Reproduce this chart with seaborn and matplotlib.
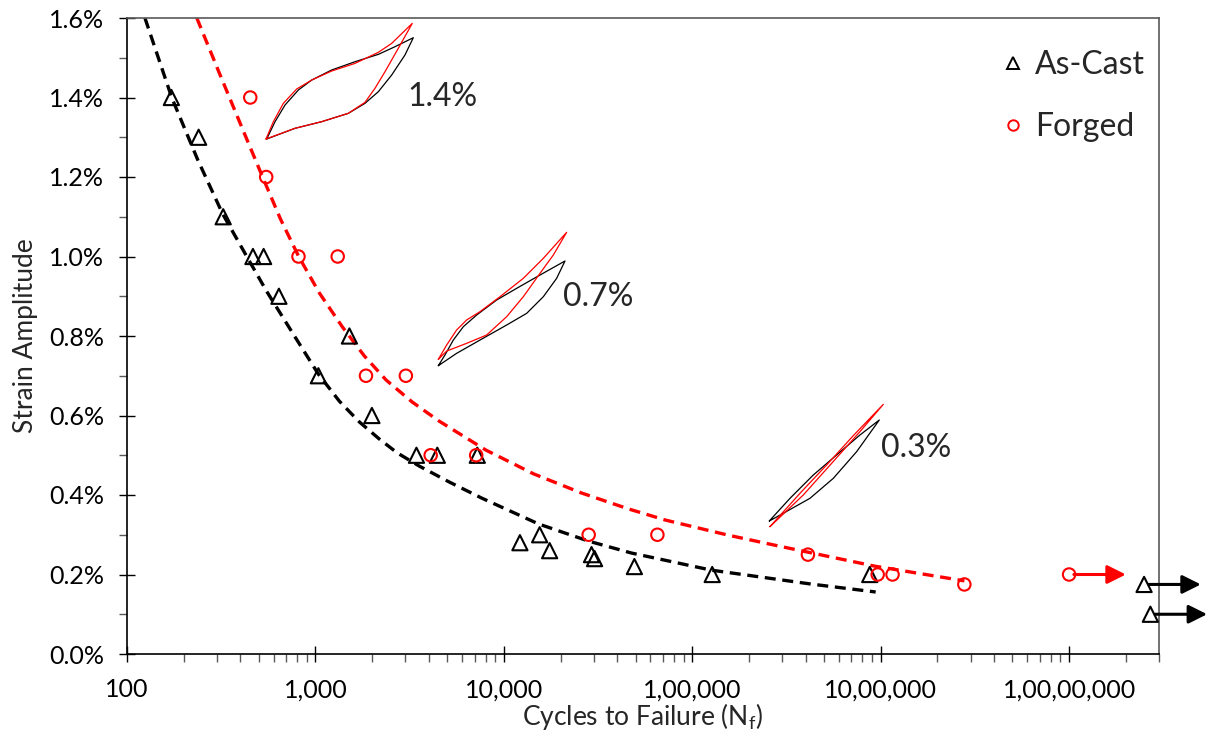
import matplotlib
matplotlib.use("Agg")
import numpy as np
import pandas as pd
import matplotlib.pyplot as plt
import seaborn as sns
from matplotlib.ticker import LogLocator, NullFormatter, MultipleLocator
from matplotlib.lines import Line2D

# ---- data ----
ascast_n = [172, 240, 324, 466, 531, 640, 1037, 1515, 1994, 3437, 4436, 7230,
            12170, 15490, 17500, 29200, 30300, 49300, 127600, 875000]
ascast_s = [1.40, 1.30, 1.10, 1.00, 1.00, 0.90, 0.70, 0.80, 0.60, 0.50, 0.50, 0.50,
            0.28, 0.30, 0.26, 0.25, 0.24, 0.22, 0.20, 0.20]
ascast_runout_n = [2.5e7, 2.7e7]
ascast_runout_s = [0.175, 0.10]

forged_n = [451, 548, 813, 1313, 1855, 3020, 4090, 7130, 28200, 65300,
            411000, 964000, 1156000, 2780000]
forged_s = [1.40, 1.20, 1.00, 1.00, 0.70, 0.70, 0.50, 0.50, 0.30, 0.30,
            0.25, 0.20, 0.20, 0.175]
forged_runout_n = [1.0e7]
forged_runout_s = [0.20]

# fitted strain-life curves
ascast_fit_n = [124.5, 173, 237.5, 322, 431, 550, 774, 1037, 1340, 1709, 2181, 2716,
                3550, 5117, 7648, 15318, 28164, 47556, 126060, 426240, 940700]
ascast_fit_s = [1.600, 1.399, 1.243, 1.107, 1.001, 0.913, 0.800, 0.704, 0.636, 0.584,
                0.541, 0.506, 0.473, 0.433, 0.392, 0.327, 0.284, 0.254, 0.211, 0.176, 0.156]
forged_fit_n = [234.7, 310.6, 406, 524.3, 652.8, 813.1, 1050, 1389.5, 1816.6, 2375.6,
                3261, 4530, 8031, 14414, 25856, 45850, 71970, 155050, 285100, 929500,
                2782000]
forged_fit_s = [1.600, 1.459, 1.326, 1.200, 1.094, 1.001, 0.908, 0.823, 0.750, 0.689,
                0.634, 0.586, 0.513, 0.453, 0.405, 0.365, 0.337, 0.299, 0.272, 0.221,
                0.184]

xtick_vals = [1e2, 1e3, 1e4, 1e5, 1e6, 1e7]
xtick_labels = ["100", "1,000", "10,000", "1,00,000", "10,00,000", "1,00,00,000"]
ytick_vals = [0.0, 0.2, 0.4, 0.6, 0.8, 1.0, 1.2, 1.4, 1.6]

# hysteresis loop sketches (normalised strain, stress), closed paths
loop14_black_x = [-1, -0.886, -0.75, -0.568, -0.386, -0.114, 0.205, 0.523, 0.75, 1.0,
                  0.886, 0.705, 0.523, 0.341, 0.114, -0.25, -0.614, -1]
loop14_black_y = [-1, -0.658, -0.329, -0.033, 0.164, 0.362, 0.526, 0.671, 0.822, 1.0,
                  0.658, 0.263, -0.066, -0.296, -0.493, -0.658, -0.789, -1]
loop14_red_x = [-1.01, -0.909, -0.773, -0.591, -0.386, -0.114, 0.205, 0.523, 0.705, 0.986,
                0.795, 0.614, 0.477, 0.341, 0.114, -0.25, -0.614, -1.01]
loop14_red_y = [-1.0, -0.658, -0.296, -0.013, 0.164, 0.342, 0.493, 0.711, 0.888, 1.283,
                0.789, 0.329, 0.0, -0.276, -0.493, -0.658, -0.789, -1.0]

loop07_black_x = [-1, -0.895, -0.763, -0.605, -0.395, -0.079, 0.237, 0.605, 1.0,
                  0.868, 0.658, 0.395, 0.079, -0.342, -0.711, -1]
loop07_black_y = [-1, -0.796, -0.51, -0.255, -0.032, 0.255, 0.478, 0.732, 1.0,
                  0.669, 0.318, 0.0, -0.223, -0.51, -0.764, -1]
loop07_red_x = [-1, -0.868, -0.711, -0.553, -0.342, -0.026, 0.342, 0.658, 1.026,
                0.816, 0.605, 0.342, 0.079, -0.237, -0.553, -0.868, -1]
loop07_red_y = [-0.879, -0.605, -0.318, -0.127, 0.032, 0.318, 0.669, 1.051, 1.548,
                1.115, 0.764, 0.318, -0.064, -0.414, -0.573, -0.720, -0.879]

loop03_black_x = [-1, -0.624, -0.2, 0.224, 0.648, 1.0, 0.588, 0.164, -0.261, -0.806, -1]
loop03_black_y = [-1, -0.551, -0.089, 0.307, 0.703, 1.0, 0.373, -0.155, -0.551, -0.884, -1]
loop03_red_x = [-0.988, -0.442, 0.042, 0.527, 1.073, 0.648, 0.133, -0.382, -0.988]
loop03_red_y = [-1.112, -0.452, 0.109, 0.690, 1.310, 0.769, 0.142, -0.485, -1.112]

# ---- style ----
sns.set_theme(style="white")
plt.rcParams["font.family"] = ["Lato", "DejaVu Sans"]
plt.rcParams["mathtext.fontset"] = "custom"
plt.rcParams["mathtext.rm"] = "Lato"

W, H = 1208, 740
fig = plt.figure(figsize=(W / 100, H / 100), dpi=100)
ax = fig.add_axes([127 / W, 1 - 654 / H, (1159 - 127) / W, (654 - 18) / H])
ax.set_xscale("log")

dash = (0, (3.3, 2))
sns.lineplot(x=ascast_fit_n, y=ascast_fit_s, ax=ax, color="black", lw=2.4,
             linestyle=dash, sort=False, estimator=None)
sns.lineplot(x=forged_fit_n, y=forged_fit_s, ax=ax, color="#ff0000", lw=2.4,
             linestyle=dash, sort=False, estimator=None)

tri_kw = dict(marker="^", s=120, facecolor="none", edgecolor="black", linewidth=1.5, zorder=4)
cir_kw = dict(marker="o", s=80, facecolor="none", edgecolor="#ff0000", linewidth=1.5, zorder=4)
sns.scatterplot(x=ascast_n, y=ascast_s, ax=ax, **tri_kw)
sns.scatterplot(x=forged_n, y=forged_s, ax=ax, **cir_kw)
sns.scatterplot(x=ascast_runout_n, y=ascast_runout_s, ax=ax, clip_on=False, **tri_kw)
sns.scatterplot(x=forged_runout_n, y=forged_runout_s, ax=ax, clip_on=False, **cir_kw)

# run-out arrows
for n, s, c in list(zip(ascast_runout_n, ascast_runout_s, ["black"] * 2)) + \
        list(zip(forged_runout_n, forged_runout_s, ["#ff0000"])):
    ax.annotate("", xy=(n * 2.0, s), xytext=(n * 1.06, s),
                arrowprops=dict(arrowstyle="-|>", color=c, lw=2.2, mutation_scale=28,
                                shrinkA=0, shrinkB=0),
                annotation_clip=False, zorder=3)

ax.set_xlim(100, 3e7)
ax.set_ylim(0, 1.6)
ax.set_xticks(xtick_vals, xtick_labels)
ax.xaxis.set_minor_locator(LogLocator(base=10, subs=np.arange(2, 10)))
ax.xaxis.set_minor_formatter(NullFormatter())
ax.set_yticks(ytick_vals, [f"{v:.1f}%" for v in ytick_vals])
ax.yaxis.set_minor_locator(MultipleLocator(0.1))
ax.tick_params(which="major", direction="inout", length=11, width=1, color="black",
               labelsize=18, labelcolor="black")
ax.tick_params(which="minor", direction="out", length=5.5, width=1, color="#595959")
ax.tick_params(axis="x", which="major", pad=12)
ax.tick_params(axis="y", which="major", pad=11)
ax.tick_params(bottom=True, left=True, which="both")

for side in ["left", "bottom"]:
    ax.spines[side].set_color("black")
    ax.spines[side].set_linewidth(1.2)
for side in ["top", "right"]:
    ax.spines[side].set_color("#595959")
    ax.spines[side].set_linewidth(1.2)

ax.set_xlabel("Cycles to Failure (N$_\\mathregular{f}$)", fontsize=19, labelpad=0)
ax.set_ylabel("Strain Amplitude", fontsize=19, labelpad=8)

# strain labels next to loops
ax.text(3070, 1.40, "1.4%", fontsize=23, ha="left", va="center")
ax.text(20700, 0.898, "0.7%", fontsize=23, ha="left", va="center")
ax.text(1.01e6, 0.518, "0.3%", fontsize=23, ha="left", va="center")

# legend
handles = [Line2D([], [], marker="^", ls="none", ms=9, mfc="none", mec="black", mew=1.4),
           Line2D([], [], marker="o", ls="none", ms=7.5, mfc="none", mec="#ff0000", mew=1.4)]
ax.legend(handles, ["As-Cast", "Forged"], loc="upper left", bbox_to_anchor=(0.815, 0.995),
          frameon=False, fontsize=23, handlelength=1.0, handletextpad=0.2, labelspacing=1.0)

# hysteresis loop insets (pixel boxes of the black loops)
loops = [((266.7, 37.7, 413.3, 139), loop14_black_x, loop14_black_y, loop14_red_x, loop14_red_y),
         ((438.3, 261, 565, 365.7), loop07_black_x, loop07_black_y, loop07_red_x, loop07_red_y),
         ((769.3, 420, 879.3, 521), loop03_black_x, loop03_black_y, loop03_red_x, loop03_red_y)]
for (x0, y0, x1, y1), bx, by, rx, ry in loops:
    iax = fig.add_axes([x0 / W, 1 - y1 / H, (x1 - x0) / W, (y1 - y0) / H])
    iax.patch.set_alpha(0)
    iax.plot(bx, by, color="black", lw=0.9, clip_on=False, solid_joinstyle="round")
    iax.plot(rx, ry, color="#ff0000", lw=0.9, clip_on=False, solid_joinstyle="round")
    iax.set_xlim(-1, 1)
    iax.set_ylim(-1, 1)
    iax.axis("off")

fig.savefig("out.png", dpi=100)
